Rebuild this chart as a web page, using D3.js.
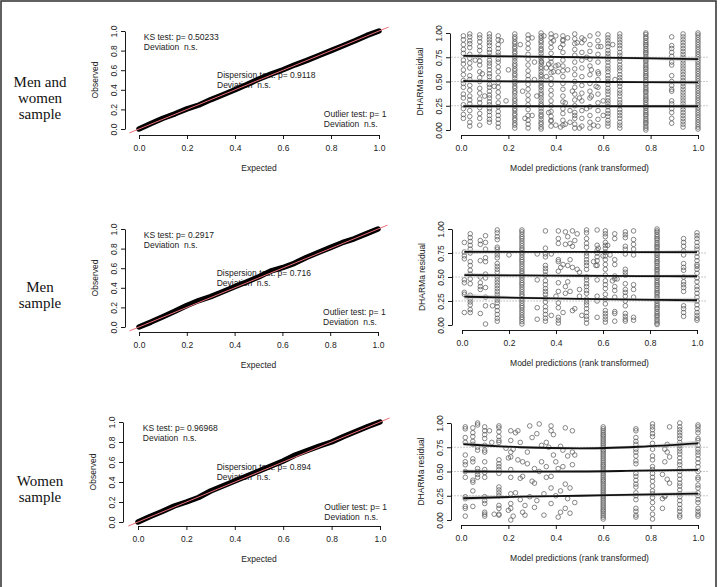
<!DOCTYPE html>
<meta charset="utf-8">
<title>DHARMa residual diagnostics</title>
<style>
  body { margin: 0; background: #fff; }
  svg { display: block; }
  text { font-family: "Liberation Sans", Arial, sans-serif; }
  .axis path, .axis line { stroke: #000; stroke-width: 0.9; }
  .axis text { font-size: 8.5px; fill: #222; }
  .rowlab { font-family: "Liberation Serif", "Times New Roman", serif; font-size: 15px; fill: #111; }
  .note { font-size: 8.5px; fill: #222; white-space: pre; }
  .title { font-size: 8.5px; fill: #222; }
</style>
<body>
<script src="https://cdn.jsdelivr.net/npm/d3@7"></script>
<script>

// ---- data ----
var rowLabels = [["Men and", "women", "sample"], ["Men", "sample"], ["Women", "sample"]];
var ksP = ["0.50233", "0.2917", "0.96968"];
var dispP = ["0.9118", "0.716", "0.894"];
var outP = ["1", "1", "1"];

var xTicks = [0, 0.2, 0.4, 0.6, 0.8, 1.0];
var qqYTicks = [0, 0.2, 0.4, 0.6, 0.8, 1.0];
var resYTicks = [0, 0.25, 0.5, 0.75, 1.0];
var quantiles = [0.25, 0.5, 0.75];

// QQ plot: observed quantile read at each expected value
var qqExpected = [0, 0.05, 0.1, 0.15, 0.2, 0.25, 0.3, 0.35, 0.4, 0.45, 0.5, 0.55, 0.6, 0.65, 0.7, 0.75, 0.8, 0.85, 0.9, 0.95, 1.0];
var qqObsAll   = [0, 0.055, 0.11, 0.155, 0.205, 0.245, 0.3, 0.35, 0.4, 0.455, 0.51, 0.56, 0.605, 0.655, 0.7, 0.75, 0.8, 0.85, 0.9, 0.955, 1.0];
var qqObsMen   = [0, 0.05, 0.105, 0.16, 0.22, 0.27, 0.31, 0.36, 0.41, 0.46, 0.51, 0.57, 0.605, 0.65, 0.71, 0.76, 0.81, 0.86, 0.9, 0.95, 1.0];
var qqObsWomen = [0, 0.055, 0.105, 0.16, 0.2, 0.245, 0.31, 0.36, 0.41, 0.46, 0.51, 0.56, 0.61, 0.67, 0.715, 0.76, 0.8, 0.855, 0.905, 0.955, 1.0];

// quantile regression lines: y at qX, with half-width of grey band
var qX = [0.01, 0.25, 0.5, 0.75, 1.0];
var qAll = [
  {y: [0.245, 0.245, 0.245, 0.245, 0.245], w: [0.02, 0.012, 0.01, 0.012, 0.02]},
  {y: [0.505, 0.5, 0.497, 0.493, 0.49], w: [0.02, 0.012, 0.01, 0.012, 0.02]},
  {y: [0.765, 0.758, 0.75, 0.74, 0.73], w: [0.02, 0.012, 0.01, 0.012, 0.025]}
];
var qMen = [
  {y: [0.295, 0.283, 0.272, 0.264, 0.258], w: [0.03, 0.015, 0.012, 0.015, 0.025]},
  {y: [0.52, 0.516, 0.513, 0.51, 0.508], w: [0.025, 0.012, 0.01, 0.012, 0.02]},
  {y: [0.762, 0.762, 0.761, 0.76, 0.76], w: [0.025, 0.012, 0.01, 0.012, 0.025]}
];
var qWomen = [
  {y: [0.224, 0.24, 0.25, 0.262, 0.272], w: [0.025, 0.012, 0.01, 0.014, 0.025]},
  {y: [0.5, 0.499, 0.5, 0.508, 0.517], w: [0.02, 0.012, 0.01, 0.012, 0.02]},
  {y: [0.783, 0.75, 0.738, 0.755, 0.79], w: [0.02, 0.012, 0.012, 0.015, 0.03]}
];

// residual scatter: vertical stacks [x, [y...]] plus loose points [x, y]
var colsAll = [
  [0.01, [0.97, 0.93, 0.88, 0.83, 0.79, 0.72, 0.68, 0.62, 0.57, 0.51, 0.48, 0.44, 0.37, 0.33, 0.26, 0.22, 0.16, 0.12]],
  [0.037, [0.99, 0.96, 0.92, 0.89, 0.85, 0.78, 0.74, 0.69, 0.64, 0.56, 0.52, 0.46, 0.41, 0.35, 0.31, 0.27, 0.2, 0.14, 0.08, 0.04]],
  [0.079, [0.98, 0.95, 0.91, 0.86, 0.82, 0.76, 0.71, 0.67, 0.6, 0.54, 0.5, 0.43, 0.38, 0.32, 0.28, 0.23, 0.17, 0.12, 0.05]],
  [0.12, [0.99, 0.96, 0.93, 0.9, 0.87, 0.83, 0.8, 0.76, 0.72, 0.69, 0.66, 0.62, 0.58, 0.55, 0.51, 0.47, 0.44, 0.4, 0.36, 0.33, 0.29, 0.26, 0.22, 0.19, 0.15, 0.11, 0.08]],
  [0.157, [0.97, 0.93, 0.88, 0.84, 0.8, 0.77, 0.73, 0.7, 0.65, 0.6, 0.54, 0.49, 0.44, 0.39, 0.34, 0.28, 0.24, 0.19, 0.15, 0.11, 0.07, 0.03]],
  [0.227, [0.99, 0.96, 0.94, 0.91, 0.89, 0.86, 0.84, 0.81, 0.79, 0.76, 0.74, 0.71, 0.68, 0.66, 0.63, 0.61, 0.58, 0.56, 0.53, 0.5, 0.48, 0.45, 0.43, 0.4, 0.38, 0.35, 0.32, 0.3, 0.27, 0.25, 0.22, 0.2, 0.17, 0.15, 0.12, 0.1, 0.07, 0.05, 0.02]],
  [0.283, [0.98, 0.94, 0.89, 0.84, 0.78, 0.73, 0.67, 0.61, 0.56, 0.52, 0.47, 0.42, 0.36, 0.31, 0.26, 0.21, 0.15, 0.1, 0.06, 0.02]],
  [0.338, [1.0, 0.97, 0.95, 0.92, 0.9, 0.87, 0.84, 0.82, 0.79, 0.76, 0.74, 0.71, 0.68, 0.65, 0.63, 0.6, 0.57, 0.55, 0.52, 0.49, 0.46, 0.44, 0.41, 0.38, 0.36, 0.33, 0.3, 0.27, 0.25, 0.22, 0.19, 0.16, 0.14, 0.11, 0.08, 0.06, 0.03, 0.01]],
  [0.38, [0.99, 0.95, 0.9, 0.85, 0.79, 0.74, 0.7, 0.64, 0.59, 0.53, 0.47, 0.41, 0.36, 0.3, 0.25, 0.19, 0.14, 0.09, 0.04]],
  [0.43, [0.97, 0.92, 0.88, 0.8, 0.72, 0.66, 0.61, 0.55, 0.48, 0.42, 0.35, 0.29, 0.22, 0.17, 0.1, 0.05]],
  [0.48, [0.99, 0.94, 0.89, 0.83, 0.77, 0.7, 0.63, 0.57, 0.5, 0.44, 0.37, 0.31, 0.25, 0.18, 0.12, 0.06, 0.02]],
  [0.51, [0.95, 0.9, 0.8, 0.72, 0.64, 0.55, 0.46, 0.38, 0.3, 0.2, 0.12, 0.04]],
  [0.544, [0.97, 0.88, 0.81, 0.73, 0.66, 0.57, 0.48, 0.4, 0.33, 0.24, 0.15, 0.08, 0.02]],
  [0.578, [0.99, 0.92, 0.86, 0.78, 0.7, 0.6, 0.52, 0.44, 0.37, 0.28, 0.2, 0.11, 0.04]],
  [0.62, [0.98, 0.95, 0.92, 0.89, 0.86, 0.82, 0.79, 0.76, 0.73, 0.7, 0.66, 0.63, 0.6, 0.56, 0.53, 0.5, 0.47, 0.43, 0.4, 0.37, 0.33, 0.3, 0.27, 0.24, 0.2, 0.17, 0.14, 0.1, 0.07, 0.04]],
  [0.67, [0.99, 0.96, 0.93, 0.9, 0.87, 0.84, 0.8, 0.77, 0.74, 0.71, 0.67, 0.64, 0.61, 0.57, 0.54, 0.51, 0.48, 0.45, 0.41, 0.38, 0.35, 0.31, 0.28, 0.25, 0.21, 0.18, 0.15, 0.12, 0.08, 0.05, 0.02]],
  [0.78, [1.0, 0.985, 0.96, 0.945, 0.92, 0.9, 0.88, 0.865, 0.84, 0.82, 0.8, 0.785, 0.76, 0.74, 0.72, 0.705, 0.68, 0.66, 0.64, 0.625, 0.6, 0.58, 0.56, 0.545, 0.52, 0.5, 0.48, 0.465, 0.44, 0.42, 0.4, 0.385, 0.36, 0.34, 0.32, 0.305, 0.28, 0.26, 0.24, 0.225, 0.2, 0.18, 0.16, 0.145, 0.12, 0.1, 0.08, 0.065, 0.04, 0.02, 0.0]],
  [0.889, [0.96, 0.87, 0.84, 0.8, 0.76, 0.7, 0.67, 0.56, 0.5, 0.46, 0.42, 0.4, 0.3, 0.27, 0.22, 0.18, 0.12, 0.07]],
  [0.937, [0.99, 0.96, 0.93, 0.9, 0.87, 0.84, 0.81, 0.78, 0.75, 0.72, 0.69, 0.66, 0.63, 0.6, 0.57, 0.54, 0.51, 0.48, 0.45, 0.42, 0.39, 0.36, 0.33, 0.3, 0.27, 0.24, 0.21, 0.18, 0.15, 0.12, 0.09, 0.06, 0.03]],
  [1.0, [1.0, 0.98, 0.955, 0.93, 0.905, 0.88, 0.855, 0.83, 0.805, 0.78, 0.755, 0.73, 0.705, 0.68, 0.655, 0.63, 0.605, 0.58, 0.555, 0.53, 0.505, 0.48, 0.455, 0.43, 0.405, 0.38, 0.355, 0.33, 0.305, 0.28, 0.255, 0.23, 0.205, 0.18, 0.155, 0.13, 0.105, 0.08, 0.055, 0.03, 0.01]]
];
var looseAll = [
  [0.06, 0.72], [0.09, 0.58], [0.1, 0.35], [0.14, 0.45], [0.17, 0.92], [0.19, 0.3], [0.2, 0.62], [0.25, 0.88],
  [0.26, 0.4], [0.27, 0.12], [0.3, 0.95], [0.31, 0.7], [0.32, 0.35], [0.35, 0.97], [0.36, 0.55], [0.37, 0.18],
  [0.39, 0.92], [0.4, 0.66], [0.41, 0.6], [0.42, 0.85], [0.44, 0.28], [0.45, 0.62], [0.46, 0.08], [0.47, 0.4],
  [0.49, 0.9], [0.5, 0.33], [0.52, 0.93], [0.53, 0.22], [0.55, 0.62], [0.56, 0.05], [0.57, 0.45], [0.59, 0.86],
  [0.6, 0.15], [0.36, 0.64], [0.37, 0.68], [0.39, 0.6], [0.41, 0.67], [0.38, 0.1], [0.4, 0.05], [0.42, 0.03],
  [0.44, 0.06], [0.46, 0.2], [0.48, 0.15], [0.5, 0.02], [0.45, 0.95], [0.43, 0.93], [0.4, 0.97], [0.34, 0.7],
  [0.31, 0.52], [0.3, 0.15], [0.53, 0.75], [0.55, 0.35], [0.58, 0.58], [0.6, 0.3], [0.64, 0.88], [0.65, 0.52]
];

var colsMen = [
  [0.01, [0.86, 0.76, 0.72, 0.69, 0.47, 0.44, 0.34, 0.32, 0.13]],
  [0.035, [0.95, 0.91, 0.87, 0.83, 0.79, 0.75, 0.66, 0.62, 0.57, 0.53, 0.48, 0.43, 0.31, 0.27, 0.24, 0.21, 0.16, 0.13]],
  [0.078, [0.88, 0.84, 0.67, 0.5, 0.44, 0.4, 0.37, 0.12]],
  [0.1, [0.93, 0.86, 0.79, 0.7, 0.66, 0.53, 0.49, 0.39, 0.29, 0.2, 0.01]],
  [0.15, [0.99, 0.96, 0.92, 0.89, 0.81, 0.79, 0.76, 0.73, 0.7, 0.64, 0.61, 0.58, 0.55, 0.5, 0.47, 0.44, 0.41, 0.38, 0.35, 0.32, 0.29, 0.26, 0.23, 0.19, 0.15, 0.11, 0.07, 0.04]],
  [0.255, [0.99, 0.97, 0.945, 0.92, 0.9, 0.875, 0.85, 0.825, 0.8, 0.78, 0.755, 0.73, 0.705, 0.68, 0.66, 0.635, 0.61, 0.585, 0.56, 0.54, 0.515, 0.49, 0.465, 0.44, 0.42, 0.395, 0.37, 0.345, 0.32, 0.3, 0.275, 0.25, 0.225, 0.2, 0.18, 0.155, 0.13, 0.105, 0.08, 0.06, 0.035, 0.01]],
  [0.32, [0.74, 0.47, 0.18, 0.06]],
  [0.355, [0.98, 0.8, 0.74, 0.71, 0.62, 0.59, 0.56, 0.52, 0.46, 0.42, 0.38, 0.35, 0.32, 0.28, 0.24, 0.19, 0.15, 0.11, 0.07, 0.04]],
  [0.41, [0.98, 0.9, 0.85, 0.68, 0.66, 0.56, 0.44, 0.35, 0.23, 0.18, 0.08, 0.05, 0.02]],
  [0.53, [0.99, 0.96, 0.9, 0.85, 0.81, 0.75, 0.72, 0.68, 0.65, 0.62, 0.58, 0.5, 0.47, 0.43, 0.4, 0.36, 0.33, 0.27, 0.24, 0.21, 0.17, 0.13, 0.09, 0.06, 0.02]],
  [0.575, [0.99, 0.83, 0.78, 0.75, 0.71, 0.67, 0.62, 0.47, 0.3, 0.25, 0.08]],
  [0.61, [0.98, 0.95, 0.92, 0.86, 0.83, 0.8, 0.76, 0.72, 0.68, 0.63, 0.58, 0.52, 0.46, 0.42, 0.38, 0.32, 0.27, 0.22, 0.15, 0.12, 0.09, 0.06, 0.03]],
  [0.65, [0.95, 0.9, 0.68, 0.63, 0.51, 0.48, 0.4, 0.36, 0.29, 0.14, 0.12, 0.04]],
  [0.695, [0.97, 0.94, 0.91, 0.82, 0.79, 0.74, 0.58, 0.55, 0.52, 0.43, 0.37, 0.34, 0.3, 0.25, 0.2, 0.12, 0.09, 0.06, 0.04]],
  [0.73, [0.98, 0.89, 0.84, 0.79, 0.73, 0.42, 0.37, 0.29, 0.08, 0.05]],
  [0.83, [1.0, 0.98, 0.965, 0.94, 0.92, 0.9, 0.885, 0.86, 0.84, 0.82, 0.805, 0.78, 0.76, 0.74, 0.725, 0.7, 0.68, 0.66, 0.645, 0.62, 0.6, 0.58, 0.565, 0.54, 0.52, 0.5, 0.485, 0.46, 0.44, 0.42, 0.405, 0.38, 0.36, 0.34, 0.325, 0.3, 0.28, 0.26, 0.245, 0.22, 0.2, 0.18, 0.165, 0.14, 0.12, 0.1, 0.085, 0.06, 0.04, 0.02, 0.005]],
  [0.943, [0.9, 0.86, 0.82, 0.77, 0.73, 0.64, 0.6, 0.57, 0.5, 0.45, 0.42, 0.39, 0.35, 0.2, 0.17, 0.13, 0.09]],
  [1.0, [0.96, 0.93, 0.9, 0.86, 0.82, 0.79, 0.75, 0.71, 0.67, 0.63, 0.61, 0.58, 0.54, 0.49, 0.45, 0.4, 0.37, 0.33, 0.29, 0.25, 0.21, 0.17, 0.13, 0.1, 0.07, 0.05]]
];
var looseMen = [
  [0.38, 0.1], [0.43, 0.13], [0.44, 0.84], [0.45, 0.92], [0.46, 0.68], [0.45, 0.45], [0.47, 0.15], [0.48, 0.17],
  [0.46, 0.35], [0.44, 0.33], [0.48, 0.88], [0.49, 0.95], [0.47, 0.98], [0.5, 0.55], [0.49, 0.58], [0.5, 0.37],
  [0.5, 0.3], [0.51, 0.1], [0.47, 0.6], [0.43, 0.63], [0.44, 0.97], [0.57, 0.62], [0.56, 0.66], [0.58, 0.8],
  [0.6, 0.72], [0.62, 0.83], [0.63, 0.73], [0.64, 0.46], [0.66, 0.48], [0.38, 0.74], [0.4, 0.3], [0.46, 0.85],
  [0.42, 0.6], [0.45, 0.62], [0.13, 0.2], [0.2, 0.73], [0.44, 0.4], [0.47, 0.82]
];

var colsWomen = [
  [0.018, [0.96, 0.94, 0.85, 0.8, 0.67, 0.6, 0.57, 0.5, 0.44, 0.24, 0.22, 0.14, 0.12, 0.04]],
  [0.05, [0.95, 0.9, 0.86, 0.81, 0.78, 0.63, 0.6, 0.41, 0.39, 0.3, 0.14]],
  [0.07, [1.0, 0.98, 0.75, 0.72, 0.53, 0.5, 0.47, 0.44]],
  [0.1, [0.96, 0.92, 0.88, 0.84, 0.77, 0.72, 0.7, 0.6, 0.52, 0.49, 0.44, 0.24, 0.2, 0.17, 0.08, 0.06, 0.04]],
  [0.16, [0.97, 0.95, 0.91, 0.86, 0.82, 0.8, 0.62, 0.58, 0.55, 0.52, 0.48, 0.34, 0.31, 0.28, 0.25, 0.15, 0.12, 0.06, 0.05]],
  [0.21, [0.92, 0.82, 0.7, 0.65, 0.52, 0.44, 0.27, 0.17, 0.12, 0.0]],
  [0.6, [0.96, 0.94, 0.92, 0.9, 0.88, 0.865, 0.845, 0.825, 0.805, 0.785, 0.765, 0.745, 0.725, 0.71, 0.69, 0.67, 0.65, 0.63, 0.61, 0.59, 0.57, 0.555, 0.535, 0.515, 0.495, 0.475, 0.455, 0.435, 0.415, 0.4, 0.38, 0.36, 0.34, 0.32, 0.3, 0.28, 0.26, 0.245, 0.225, 0.205, 0.185, 0.165, 0.145, 0.125, 0.105, 0.09, 0.07, 0.05, 0.03, 0.01]],
  [0.738, [0.94, 0.92, 0.85, 0.81, 0.78, 0.73, 0.7, 0.66, 0.61, 0.58, 0.48, 0.45, 0.41, 0.37, 0.34, 0.28, 0.25, 0.21, 0.12, 0.09, 0.05, 0.03]],
  [0.808, [0.99, 0.96, 0.93, 0.89, 0.86, 0.79, 0.73, 0.66, 0.62, 0.55, 0.52, 0.48, 0.44, 0.4, 0.35, 0.3, 0.27, 0.23, 0.18, 0.12, 0.06, 0.01]],
  [0.923, [1.0, 0.96, 0.93, 0.9, 0.87, 0.84, 0.8, 0.77, 0.74, 0.71, 0.68, 0.64, 0.6, 0.57, 0.53, 0.5, 0.46, 0.42, 0.38, 0.35, 0.31, 0.27, 0.24, 0.2, 0.16, 0.12, 0.09, 0.05, 0.03]],
  [1.0, [0.98, 0.96, 0.93, 0.9, 0.84, 0.82, 0.77, 0.73, 0.7, 0.67, 0.63, 0.59, 0.55, 0.5, 0.44, 0.42, 0.36, 0.33, 0.28, 0.25, 0.21, 0.18, 0.12, 0.09, 0.06, 0.04]]
];
var looseWomen = [
  [0.12, 0.92], [0.13, 0.8], [0.14, 0.06], [0.19, 0.74], [0.2, 0.64], [0.2, 0.1], [0.22, 0.73], [0.23, 0.9],
  [0.24, 0.92], [0.24, 0.62], [0.25, 0.8], [0.26, 0.6], [0.26, 0.45], [0.25, 0.43], [0.25, 0.21], [0.26, 0.08],
  [0.27, 0.05], [0.27, 0.15], [0.28, 0.7], [0.28, 0.58], [0.29, 0.97], [0.3, 0.85], [0.3, 0.4], [0.31, 0.38],
  [0.31, 0.53], [0.32, 0.89], [0.32, 0.2], [0.33, 0.99], [0.33, 0.5], [0.34, 0.77], [0.34, 0.6], [0.35, 0.27],
  [0.35, 0.05], [0.36, 0.8], [0.36, 0.55], [0.37, 0.75], [0.38, 0.97], [0.38, 0.92], [0.38, 0.45], [0.38, 0.33],
  [0.38, 0.17], [0.39, 0.88], [0.39, 0.67], [0.4, 0.6], [0.41, 0.03], [0.42, 0.3], [0.42, 0.08], [0.43, 0.72],
  [0.43, 0.55], [0.44, 0.95], [0.44, 0.37], [0.44, 0.12], [0.45, 0.66], [0.45, 0.22], [0.46, 0.33], [0.46, 0.07],
  [0.47, 0.92], [0.47, 0.7], [0.47, 0.57], [0.48, 0.67], [0.48, 0.18], [0.29, 0.24], [0.31, 0.13], [0.23, 0.28],
  [0.22, 0.04], [0.36, 0.44], [0.41, 0.53], [0.42, 0.76], [0.4, 0.25], [0.85, 0.47], [0.86, 0.6], [0.87, 0.7],
  [0.86, 0.25], [0.85, 0.12], [0.87, 0.42], [0.88, 0.38], [0.88, 0.65], [0.87, 0.78], [0.86, 0.73], [0.88, 0.96],
  [0.85, 0.22], [0.86, 0.24]
];

var panels = [
  {label: rowLabels[0], ks: ksP[0], disp: dispP[0], out: outP[0], qq: qqObsAll, q: qAll, cols: colsAll, loose: looseAll},
  {label: rowLabels[1], ks: ksP[1], disp: dispP[1], out: outP[1], qq: qqObsMen, q: qMen, cols: colsMen, loose: looseMen},
  {label: rowLabels[2], ks: ksP[2], disp: dispP[2], out: outP[2], qq: qqObsWomen, q: qWomen, cols: colsWomen, loose: looseWomen}
];

// ---- layout (pixel boxes of each row) ----
var layout = [
  {labY: 87, qq: {x0: 139, x1: 379, y0: 129, y1: 31, ax: 125, ay: 135}, res: {x0: 461, x1: 698, y0: 130, y1: 33, ax: 450, ay: 135}},
  {labY: 292, qq: {x0: 139, x1: 378, y0: 327, y1: 229, ax: 125, ay: 332}, res: {x0: 462, x1: 697, y0: 325, y1: 229, ax: 452, ay: 330}},
  {labY: 486, qq: {x0: 138, x1: 380, y0: 522, y1: 422, ax: 123, ay: 526}, res: {x0: 461, x1: 698, y0: 520, y1: 423, ax: 451, ay: 525}}
];

var W = 720, H = 587;
var svg = d3.select("body").append("svg").attr("width", W).attr("height", H);

// outer frame
svg.append("rect").attr("x", 1).attr("y", 1).attr("width", 715).attr("height", 620)
  .attr("fill", "none").attr("stroke", "#3a3a3a").attr("stroke-width", 1.6);

function drawAxes(g, x, y, box, yFmt, yTicks, xTitle, yTitle) {
  g.append("g").attr("class", "axis")
    .attr("transform", "translate(0," + box.ay + ")")
    .call(d3.axisBottom(x).tickValues(xTicks).tickSize(4).tickSizeOuter(0).tickPadding(6).tickFormat(d3.format(".1f")))
    .call(function(a) { a.selectAll("text").attr("dy", "0.71em"); });

  g.append("g").attr("class", "axis")
    .attr("transform", "translate(" + box.ax + ",0)")
    .call(d3.axisLeft(y).tickValues(yTicks).tickSize(4).tickSizeOuter(0).tickFormat(d3.format(yFmt)))
    .call(function(a) {
      a.selectAll("text")
        .attr("x", null).attr("dy", null)
        .attr("text-anchor", "middle")
        .attr("transform", "translate(-8,0) rotate(-90)");
    });

  g.selectAll(".domain").attr("fill", "none");

  g.append("text").attr("class", "title")
    .attr("x", (box.x0 + box.x1) / 2).attr("y", box.ay + 36)
    .attr("text-anchor", "middle").text(xTitle);

  g.append("text").attr("class", "title")
    .attr("text-anchor", "middle")
    .attr("transform", "translate(" + (box.ax - 27) + "," + ((box.y0 + box.y1) / 2) + ") rotate(-90)")
    .text(yTitle);
}

panels.forEach(function(p, i) {
  var L = layout[i];

  // row label
  svg.append("text").attr("class", "rowlab")
    .attr("text-anchor", "middle")
    .selectAll("tspan").data(p.label).enter().append("tspan")
    .attr("x", 40).attr("y", function(d, k) { return L.labY + k * 16; })
    .text(function(d) { return d; });

  // ---- QQ plot ----
  var b = L.qq;
  var x = d3.scaleLinear().domain([0, 1]).range([b.x0, b.x1]);
  var y = d3.scaleLinear().domain([0, 1]).range([b.y0, b.y1]);
  var g = svg.append("g");

  var notes = [
    [0.02, 0.94, "KS test: p= " + p.ks], [0.02, 0.84, "Deviation  n.s."],
    [0.325, 0.55, "Dispersion test: p= " + p.disp], [0.325, 0.45, "Deviation  n.s."],
    [0.77, 0.15, "Outlier test: p= " + p.out], [0.77, 0.05, "Deviation  n.s."]
  ];
  g.selectAll(".note").data(notes).enter().append("text").attr("class", "note")
    .attr("x", function(d) { return x(d[0]); })
    .attr("y", function(d) { return y(d[1]) + 3; })
    .text(function(d) { return d[2]; });

  var qqLine = d3.line()
    .x(function(d, k) { return x(qqExpected[k]); })
    .y(function(d) { return y(d); });
  g.append("path").datum(p.qq)
    .attr("d", qqLine)
    .attr("fill", "none").attr("stroke", "#000").attr("stroke-width", 5.5)
    .attr("stroke-linecap", "round").attr("stroke-linejoin", "round");

  g.append("line")
    .attr("x1", x(-0.04)).attr("y1", y(-0.04)).attr("x2", x(1.04)).attr("y2", y(1.04))
    .attr("stroke", "#ec6f78").attr("stroke-width", 1);

  drawAxes(g, x, y, b, ".1f", qqYTicks, "Expected", "Observed");

  // ---- residual vs predicted ----
  var r = L.res;
  var xr = d3.scaleLinear().domain([0, 1]).range([r.x0, r.x1]);
  var yr = d3.scaleLinear().domain([0, 1]).range([r.y0, r.y1]);
  var gr = svg.append("g");

  var pts = [];
  p.cols.forEach(function(c) { c[1].forEach(function(v) { pts.push([c[0], v]); }); });
  p.loose.forEach(function(d) { pts.push(d); });

  gr.selectAll("circle").data(pts).enter().append("circle")
    .attr("cx", function(d) { return xr(d[0]); })
    .attr("cy", function(d) { return yr(d[1]); })
    .attr("r", 2.3)
    .attr("fill", "none").attr("stroke", "#555").attr("stroke-width", 0.7);

  gr.selectAll(".ref").data(quantiles).enter().append("line")
    .attr("x1", xr(-0.04)).attr("x2", xr(1.04))
    .attr("y1", function(d) { return yr(d); }).attr("y2", function(d) { return yr(d); })
    .attr("stroke", "#777").attr("stroke-width", 0.8).attr("stroke-dasharray", "1,2");

  var band = d3.area().curve(d3.curveMonotoneX)
    .x(function(d, k) { return xr(qX[k]); })
    .y0(function(d, k) { return yr(d.y - d.w); })
    .y1(function(d, k) { return yr(d.y + d.w); });
  var qline = d3.line().curve(d3.curveMonotoneX)
    .x(function(d, k) { return xr(qX[k]); })
    .y(function(d) { return yr(d); });

  p.q.forEach(function(q) {
    var rows = q.y.map(function(v, k) { return {y: v, w: q.w[k]}; });
    gr.append("path").datum(rows).attr("d", band)
      .attr("fill", "#bdbdbd").attr("fill-opacity", 0.6);
    gr.append("path").datum(q.y).attr("d", qline)
      .attr("fill", "none").attr("stroke", "#111").attr("stroke-width", 1.8);
  });

  drawAxes(gr, xr, yr, r, ".2f", resYTicks, "Model predictions (rank transformed)", "DHARMa residual");
});

</script>
</body>
